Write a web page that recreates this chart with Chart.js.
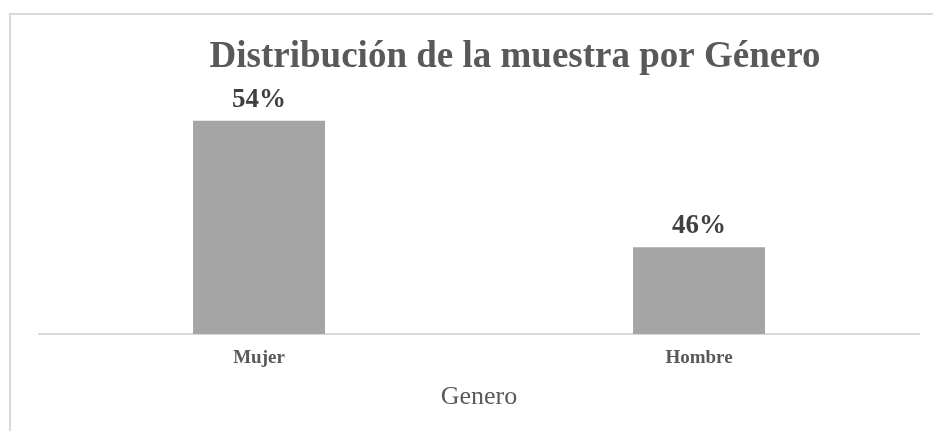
<!DOCTYPE html>
<html>
<head>
<meta charset="utf-8">
<script src="https://cdn.jsdelivr.net/npm/chart.js@4"></script>
<style>
  html, body { margin: 0; padding: 0; background: #fff; overflow: hidden; }
  #wrap { position: relative; width: 933px; height: 431px; overflow: hidden; }
  #marco { position: absolute; left: 9px; top: 13px; width: 1000px; height: 1000px;
           border: 2px solid #d9d9d9; box-sizing: border-box; }
  #grafico { position: absolute; left: 0; top: 0; }
</style>
</head>
<body>
<div id="wrap">
  <div id="marco"></div>
  <canvas id="grafico" width="933" height="431"></canvas>
</div>
<script>
// datos del grafico
const categorias = ['Mujer', 'Hombre'];
const valores = [54, 46];
const titulo = 'Distribución de la muestra por Género';
const tituloEje = 'Genero';

// titulo (algo desplazado a la derecha, como en el original) y etiquetas de porcentaje
const textosExtra = {
  id: 'textosExtra',
  afterDatasetsDraw(chart) {
    const ctx = chart.ctx;
    const meta = chart.getDatasetMeta(0);
    ctx.save();
    ctx.textAlign = 'center';
    ctx.textBaseline = 'alphabetic';

    ctx.font = 'bold 37px "Liberation Serif"';
    ctx.fillStyle = '#595959';
    ctx.fillText(titulo, 515, 67);

    ctx.font = 'bold 27px "Liberation Serif"';
    ctx.fillStyle = '#404040';
    meta.data.forEach((bar, i) => {
      ctx.fillText(valores[i] + '%', bar.x, bar.y - 14);
    });
    ctx.restore();
  }
};

const ctx = document.getElementById('grafico').getContext('2d');
new Chart(ctx, {
  type: 'bar',
  data: {
    labels: categorias,
    datasets: [{
      data: valores,
      backgroundColor: '#a5a5a5',
      barPercentage: 0.3,
      categoryPercentage: 1
    }]
  },
  options: {
    responsive: false,
    animation: false,
    devicePixelRatio: 1,
    layout: { padding: { left: 39, right: 14, top: 80, bottom: 0 } },
    plugins: {
      legend: { display: false },
      tooltip: { enabled: false },
      title: { display: false }
    },
    scales: {
      x: {
        grid: { display: false, drawTicks: false },
        border: { display: true, color: '#d9d9d9', width: 2 },
        ticks: {
          color: '#595959',
          padding: 15,
          font: { family: '"Liberation Serif"', size: 19, weight: 'bold', lineHeight: 1 }
        },
        title: {
          display: true,
          text: tituloEje,
          color: '#595959',
          font: { family: '"Liberation Serif"', size: 26, lineHeight: 1 },
          padding: { top: 1, bottom: 21 }
        }
      },
      y: {
        display: false,
        min: 40.52,
        max: 56.58
      }
    }
  },
  plugins: [textosExtra]
});
</script>
</body>
</html>
